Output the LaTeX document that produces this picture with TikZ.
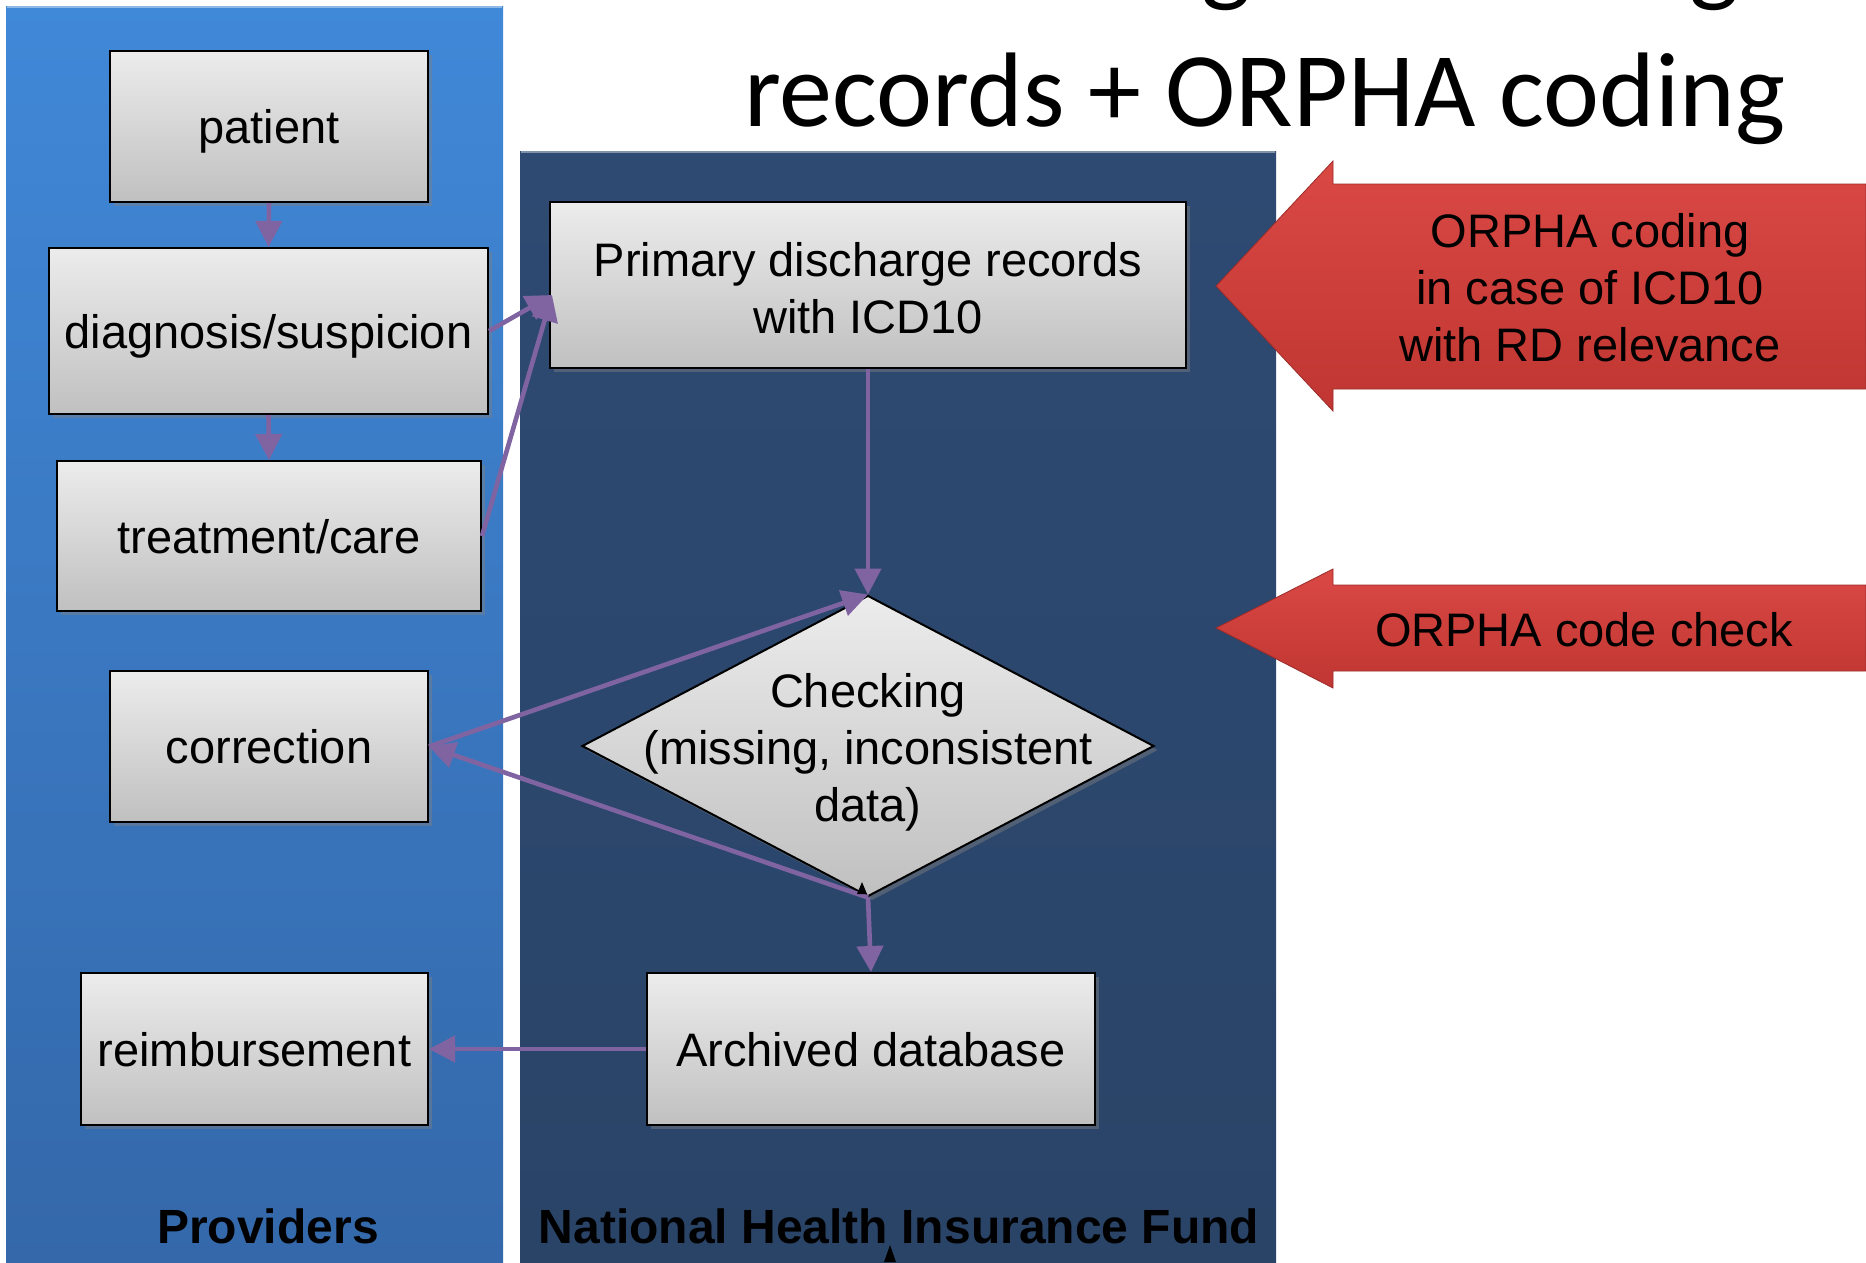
\documentclass[tikz,border=0pt]{standalone}
\usepackage{fontspec}
\setmainfont{Liberation Sans}
\newfontfamily\titlefont{Carlito}
\usetikzlibrary{arrows.meta,shapes.geometric,shadows,calc}
\definecolor{conn}{RGB}{128,100,162}
\definecolor{boxtop}{RGB}{236,236,236}
\definecolor{boxbot}{RGB}{192,192,192}
\definecolor{provtop}{RGB}{64,136,216}
\definecolor{provbot}{RGB}{52,104,170}
\definecolor{nhiftop}{RGB}{46,74,114}
\definecolor{nhifbot}{RGB}{42,68,104}
\definecolor{redtop}{RGB}{218,72,68}
\definecolor{redbot}{RGB}{192,54,50}
\begin{document}
\begin{tikzpicture}[x=1pt,y=-1pt,
  txt/.style={font=\fontsize{47}{57}\selectfont, align=center},
  procbox/.style={draw=black, line width=2pt, top color=boxtop, bottom color=boxbot,
    inner sep=0pt, txt, drop shadow={shadow xshift=4pt, shadow yshift=-4pt, opacity=0.45}},
  onebox/.style={procbox, text depth=0pt},
  conn/.style={draw=conn, line width=4.6pt, -{Triangle[length=26pt,width=26pt]}},
  panellabel/.style={font=\bfseries\fontsize{48}{56}\selectfont, inner sep=0pt},
  redarrow/.style={top color=redtop, bottom color=redbot, draw=redbot!80!black, line width=0.8pt}
]
\useasboundingbox (0,0) rectangle (1866,1262);
\fill[white] (0,0) rectangle (1866,1262);

% title
\begin{scope}
  \clip (0,0) rectangle (1866,1262);
  \node[anchor=base, inner sep=0pt, font=\titlefont\fontsize{106}{120}\selectfont] (g1) at (1226,-8) {g};
  \node[anchor=base, inner sep=0pt, font=\titlefont\fontsize{106}{120}\selectfont] (g2) at (1714,-8) {g};
\end{scope}
\node[anchor=base west, inner sep=0pt, font=\titlefont\fontsize{106}{120}\selectfont] (title) at (744,126) {records + ORPHA coding};

% panels
\fill[top color=provtop, bottom color=provbot] (6,6) rectangle (503,1262);
\draw[provtop!60!white, line width=2pt] (7,7) -- (502,7);
\fill[top color=nhiftop, bottom color=nhifbot] (520,151) rectangle (1276,1262);
\draw[nhiftop!60!white, line width=2pt] (521,152) -- (1275,152);

% red arrows
\path[redarrow] (1216,286) -- (1333,161) -- (1333,184) -- (1866,184) -- (1866,389) -- (1333,389) -- (1333,411) -- cycle;
\node[txt] (orpha1) at (1590,288) {ORPHA coding\\in case of ICD10\\with RD relevance};
\path[redarrow] (1216,628) -- (1333,569) -- (1333,585) -- (1866,585) -- (1866,671) -- (1333,671) -- (1333,688) -- cycle;
\node[txt] (orpha2) at (1584,630) {ORPHA code check};

% provider boxes
\node[onebox, minimum width=318, minimum height=151] (patient) at (269,126.5) {patient};
\node[onebox, minimum width=439, minimum height=166] (diag) at (268.5,331) {diagnosis/suspicion};
\node[onebox, minimum width=424, minimum height=150] (treat) at (269,536) {treatment/care};
\node[onebox, minimum width=318, minimum height=151] (corr) at (269,746.5) {correction};
\node[onebox, minimum width=347, minimum height=152] (reimb) at (254.5,1049) {reimbursement};

% NHIF boxes
\node[procbox, minimum width=636, minimum height=166] (primary) at (868,285) {};
\node[txt, inner sep=0pt] (primtext) at (868,288) {Primary discharge records\\with ICD10};
\node[procbox, diamond, aspect=1.9, minimum width=572, minimum height=301] (chk) at (868,746) {};
\node[txt, inner sep=0pt] (chktext) at (868,752) {Checking\\(missing, inconsistent\\data)};
\node[onebox, minimum width=448, minimum height=152] (arch) at (871,1049) {Archived database};

% panel labels
\node[panellabel] (prov) at (268,1226) {Providers};
\node[panellabel] (nhif) at (899,1226) {National Health Insurance Fund};

% connectors
\coordinate (pin) at ($(primary.west)+(3,10)$);
\draw[conn] (patient.south) -- (diag.north);
\draw[conn] (diag.south) -- (treat.north);
\draw[conn] (diag.east) -- (pin);
\draw[conn] (treat.east) -- (pin);
\draw[conn] (primary.south) -- (chk.north);
\draw[conn] (corr.east) -- (chk.north);
\draw[conn] (chk.south) -- (corr.east);
\draw[conn] (chk.south) -- (arch.north);
\draw[conn] (arch.west) -- (reimb.east);

% small black tips
\fill[black] (862,882) -- (857,894) -- (867,894) -- cycle;
\fill[black] (890,1245) -- (884,1262) -- (896,1262) -- cycle;
\end{tikzpicture}
\end{document}
